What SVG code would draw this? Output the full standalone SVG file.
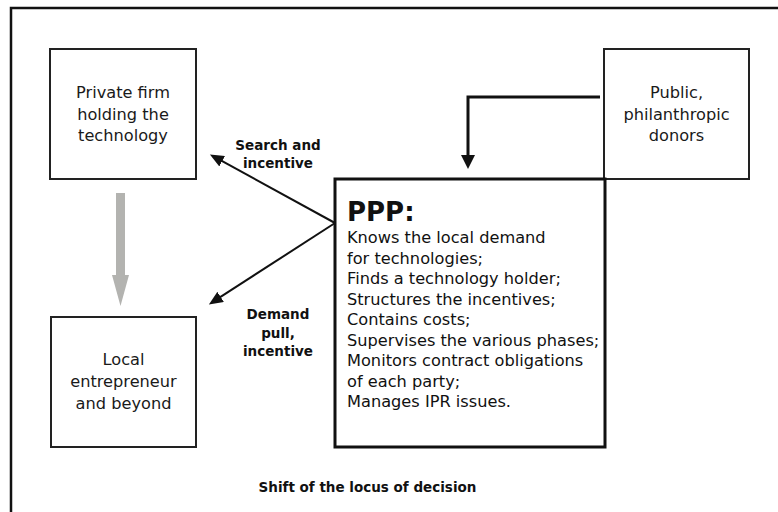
<svg xmlns="http://www.w3.org/2000/svg" width="778" height="512" viewBox="0 0 778 512">
<style>
.box{fill:#fff;stroke:#222;stroke-width:2}
.ppp{fill:#fff;stroke:#111;stroke-width:3}
.t{font-family:"DejaVu Sans","Liberation Sans",sans-serif;font-size:16.2px;fill:#1a1a1a;text-anchor:middle}
.l{font-family:"DejaVu Sans","Liberation Sans",sans-serif;font-size:16.2px;fill:#111}
.b{font-family:"DejaVu Sans","Liberation Sans",sans-serif;font-weight:bold;font-size:13.5px;fill:#111;text-anchor:middle}
.conn{fill:none;stroke:#111}
</style>
<defs>
<marker id="ah" markerUnits="userSpaceOnUse" markerWidth="16" markerHeight="12" refX="1" refY="6" orient="auto">
<path d="M0,0 L14,6 L0,12 z" fill="#111"/>
</marker>
<marker id="ahv" markerUnits="userSpaceOnUse" markerWidth="16" markerHeight="14" refX="1" refY="7" orient="auto">
<path d="M0,0 L14,7 L0,14 z" fill="#111"/>
</marker>
</defs>
<rect width="778" height="512" fill="#fff"/>
<path d="M11,512 V8 H778" fill="none" stroke="#111" stroke-width="2.5"/>

<g id="private-firm">
<rect class="box" x="50" y="49" width="146" height="130"/>
<text class="t" x="123" y="98">Private firm</text>
<text class="t" x="123" y="119.5">holding the</text>
<text class="t" x="123" y="141">technology</text>
</g>

<g id="donors">
<rect class="box" x="604" y="49" width="145" height="130"/>
<text class="t" x="676.5" y="98">Public,</text>
<text class="t" x="676.5" y="119.5">philanthropic</text>
<text class="t" x="676.5" y="141">donors</text>
</g>

<g id="local-entrepreneur">
<rect class="box" x="51" y="317" width="145" height="130"/>
<text class="t" x="123.5" y="365">Local</text>
<text class="t" x="123.5" y="387">entrepreneur</text>
<text class="t" x="123.5" y="409">and beyond</text>
</g>

<g id="ppp">
<rect class="ppp" x="335" y="179" width="270" height="268"/>
<text x="347" y="221" font-family="DejaVu Sans, Liberation Sans, sans-serif" font-weight="bold" font-size="26" fill="#111">PPP:</text>
<text class="l" x="347" y="243">Knows the local demand</text>
<text class="l" x="347" y="263.5">for technologies;</text>
<text class="l" x="347" y="284">Finds a technology holder;</text>
<text class="l" x="347" y="304.5">Structures the incentives;</text>
<text class="l" x="347" y="325">Contains costs;</text>
<text class="l" x="347" y="345.5">Supervises the various phases;</text>
<text class="l" x="347" y="366">Monitors contract obligations</text>
<text class="l" x="347" y="386.5">of each party;</text>
<text class="l" x="347" y="407">Manages IPR issues.</text>
</g>

<g id="connectors">
<path class="conn" stroke-width="3" d="M600,97 H468 V156" marker-end="url(#ahv)"/>
<path class="conn" stroke-width="2" d="M335,223 L221.3,160.7" marker-end="url(#ah)"/>
<path class="conn" stroke-width="2" d="M335,223 L219.8,297.4" marker-end="url(#ah)"/>
<path d="M116,193 H125 V275 H129 L120.5,306 L112,275 H116 Z" fill="#b3b3b0"/>
</g>

<g id="labels">
<text class="b" x="278" y="150">Search and</text>
<text class="b" x="278" y="168">incentive</text>
<text class="b" x="278" y="319">Demand</text>
<text class="b" x="278" y="337.5">pull,</text>
<text class="b" x="278" y="356">incentive</text>
<text class="b" x="367.5" y="492" font-size="13.7">Shift of the locus of decision</text>
</g>
</svg>
